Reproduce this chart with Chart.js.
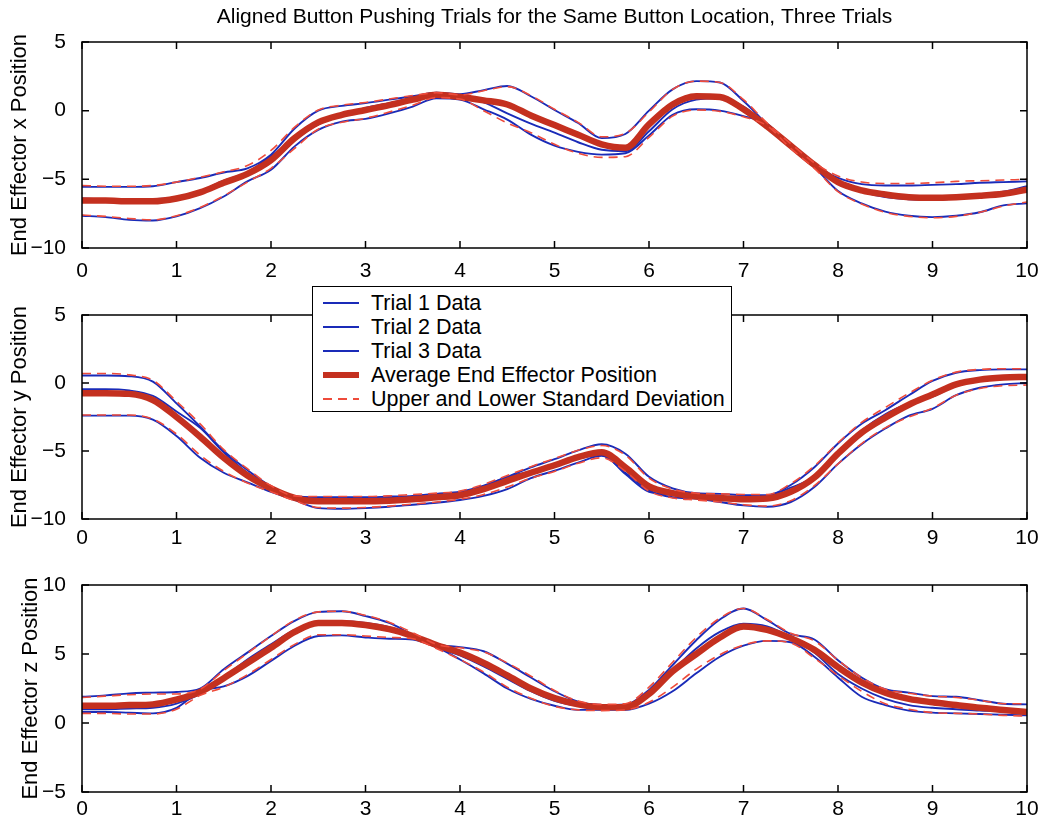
<!DOCTYPE html>
<html>
<head>
<meta charset="utf-8">
<title>Aligned Button Pushing Trials</title>
<script src="https://cdn.jsdelivr.net/npm/chart.js@4.4.1/dist/chart.umd.min.js"></script>
<style>
  body { margin: 0; background: #fff; }
  #page { position: relative; width: 1062px; height: 823px; overflow: hidden; font-family: "Liberation Sans", Arial, Helvetica, sans-serif; }
  .plot { position: absolute; left: 0; width: 1062px; }
  #legend { position: absolute; left: 312px; top: 286px; width: 418px; height: 124px; background: #fff; border: 1.5px solid #000; z-index: 2; }
  #legend ul { list-style: none; margin: 0; padding: 4px 0 0 0; }
  #legend li { height: 24px; line-height: 24px; font-size: 21.5px; color: #000; display: flex; align-items: center; white-space: nowrap; }
  #legend .smp { display: inline-block; width: 36px; margin: 0 12px 0 10px; }
</style>
</head>
<body>
<div id="page">
  <div class="plot" style="top:0;height:285px"><canvas id="cx"></canvas></div>
  <div class="plot" style="top:280px;height:280px"><canvas id="cy"></canvas></div>
  <div class="plot" style="top:560px;height:263px"><canvas id="cz"></canvas></div>
  <div id="legend"></div>
</div>
<script>
// time axis, seconds
var tSec = [0, 0.25, 0.5, 0.75, 1, 1.25, 1.5, 1.75, 2, 2.25, 2.5, 2.75, 3, 3.25, 3.5, 3.75, 4, 4.25, 4.5, 4.75,
            5, 5.25, 5.5, 5.75, 6, 6.25, 6.5, 6.75, 7, 7.25, 7.5, 7.75, 8, 8.25, 8.5, 8.75, 9, 9.25, 9.5, 9.75, 10];

// ---- x position ----
var x_trial1 = [-5.55, -5.55, -5.55, -5.5, -5.2, -4.9, -4.5, -4.2, -3.2, -1.3, 0.0, 0.35, 0.55, 0.8, 1.05, 1.3, 1.2, 1.5, 1.8, 1.05,
                0.05, -0.9, -2.0, -1.7, 0.0, 1.55, 2.15, 2.05, 0.7, -1.0, -2.5, -3.9, -4.9, -5.35, -5.45, -5.45, -5.4, -5.35, -5.25, -5.2, -5.15];
var x_trial2 = [-6.4, -6.45, -6.5, -6.45, -6.3, -5.85, -5.1, -4.5, -3.3, -2.1, -1.0, -0.35, 0.2, 0.55, 0.9, 1.2, 0.95, 0.6, -0.2, -0.95,
                -1.6, -2.3, -2.85, -2.95, -1.5, 0.1, 0.8, 0.9, 0.3, -1.1, -2.6, -4.0, -5.3, -5.9, -6.3, -6.45, -6.5, -6.4, -6.2, -5.9, -5.5];
var x_trial3 = [-7.65, -7.75, -7.95, -8.0, -7.7, -7.1, -6.25, -5.15, -4.3, -2.6, -1.4, -0.8, -0.6, -0.2, 0.3, 0.9, 0.8, 0.1, -0.65, -1.75,
                -2.55, -3.0, -3.2, -3.1, -1.8, -0.3, 0.1, 0.0, -0.4, -0.95, -2.65, -4.1, -5.85, -6.75, -7.35, -7.65, -7.75, -7.65, -7.4, -6.9, -6.75];
var x_avg    = [-6.55, -6.55, -6.6, -6.6, -6.4, -5.95, -5.25, -4.6, -3.6, -2.0, -0.85, -0.3, 0.05, 0.4, 0.8, 1.15, 1.0, 0.75, 0.45, -0.35,
                -1.05, -1.75, -2.45, -2.7, -1.0, 0.45, 1.05, 1.0, 0.1, -1.15, -2.55, -3.95, -5.2, -5.8, -6.1, -6.3, -6.35, -6.3, -6.2, -6.05, -5.75];
var x_sdUp   = [-5.45, -5.5, -5.5, -5.45, -5.2, -4.85, -4.45, -4.0, -2.9, -1.2, 0.05, 0.4, 0.6, 0.85, 1.1, 1.3, 1.15, 1.45, 1.75, 1.1,
                0.1, -0.85, -1.9, -1.65, -0.1, 1.55, 2.15, 2.05, 0.8, -0.9, -2.4, -3.8, -4.75, -5.2, -5.3, -5.3, -5.25, -5.15, -5.1, -5.05, -5.0];
var x_sdLo   = [-7.6, -7.7, -7.85, -7.95, -7.65, -7.05, -6.2, -5.2, -4.2, -2.75, -1.35, -0.85, -0.55, -0.1, 0.4, 0.95, 0.85, 0.0, -0.9, -1.6,
                -2.45, -3.1, -3.4, -3.35, -1.95, -0.4, 0.05, -0.05, -0.45, -1.1, -2.75, -4.2, -5.9, -6.8, -7.4, -7.7, -7.8, -7.7, -7.4, -6.95, -6.65];

// ---- y position ----
var y_trial1 = [0.55, 0.55, 0.5, 0.1, -1.5, -3.2, -5.0, -6.4, -7.6, -8.35, -8.4, -8.4, -8.4, -8.35, -8.3, -8.15, -8.0, -7.55, -6.9, -6.2,
                -5.6, -4.95, -4.5, -5.2, -6.9, -7.75, -8.1, -8.15, -8.25, -8.25, -7.5, -6.2, -4.45, -3.0, -2.0, -0.9, 0.15, 0.75, 0.95, 1.0, 1.0];
var y_trial2 = [-0.45, -0.45, -0.55, -0.95, -2.1, -3.3, -5.1, -6.6, -7.7, -8.4, -8.6, -8.55, -8.5, -8.45, -8.4, -8.3, -8.15, -7.6, -6.9, -6.5,
                -6.1, -5.55, -5.3, -6.7, -8.0, -8.2, -8.45, -8.45, -8.4, -8.3, -7.7, -6.9, -5.2, -3.5, -2.3, -1.5, -1.0, -0.2, 0.2, 0.3, 0.35];
var y_trial3 = [-2.4, -2.4, -2.4, -2.7, -3.9, -5.5, -6.6, -7.3, -8.0, -8.6, -9.2, -9.25, -9.2, -9.1, -8.95, -8.8, -8.6, -8.3, -7.8, -7.0,
                -6.45, -5.85, -5.35, -6.6, -7.9, -8.4, -8.5, -8.75, -9.0, -9.1, -8.75, -7.65, -5.95, -4.5, -3.35, -2.4, -1.9, -0.9, -0.35, -0.1, 0.0];
var y_avg    = [-0.75, -0.75, -0.8, -1.25, -2.5, -3.95, -5.5, -6.8, -7.75, -8.45, -8.7, -8.7, -8.7, -8.65, -8.55, -8.4, -8.25, -7.8, -7.2, -6.6,
                -6.05, -5.45, -5.1, -6.2, -7.6, -8.1, -8.35, -8.45, -8.55, -8.5, -8.0, -6.95, -5.2, -3.65, -2.55, -1.6, -0.85, -0.1, 0.25, 0.4, 0.45];
var y_sdUp   = [0.7, 0.7, 0.6, 0.2, -1.35, -3.0, -4.9, -6.3, -7.55, -8.3, -8.35, -8.35, -8.35, -8.3, -8.2, -8.1, -7.95, -7.45, -6.8, -6.15,
                -5.55, -4.95, -4.6, -5.3, -7.0, -7.8, -8.1, -8.15, -8.2, -8.2, -7.4, -6.1, -4.4, -2.9, -1.8, -0.75, 0.2, 0.8, 1.0, 1.05, 1.05];
var y_sdLo   = [-2.35, -2.35, -2.35, -2.65, -3.75, -5.3, -6.5, -7.35, -8.0, -8.65, -9.15, -9.2, -9.15, -9.05, -8.9, -8.75, -8.55, -8.2, -7.65, -7.0,
                -6.5, -5.9, -5.5, -6.5, -7.95, -8.45, -8.6, -8.75, -8.95, -9.05, -8.65, -7.55, -5.95, -4.45, -3.3, -2.5, -1.85, -0.9, -0.4, -0.2, -0.15];

// ---- z position ----
var z_trial1 = [1.9, 2.0, 2.15, 2.2, 2.25, 2.5, 3.9, 5.1, 6.3, 7.4, 8.05, 8.1, 7.75, 7.25, 6.4, 5.7, 5.5, 5.2, 4.3, 3.3,
                2.3, 1.55, 1.3, 1.35, 2.4, 4.2, 6.0, 7.5, 8.3, 7.45, 6.45, 6.05, 4.55, 3.3, 2.45, 2.2, 1.95, 1.9, 1.65, 1.4, 1.35];
var z_trial2 = [1.0, 1.0, 1.05, 1.1, 1.4, 2.1, 3.3, 4.6, 5.7, 6.75, 7.3, 7.35, 7.25, 6.95, 6.3, 5.5, 4.9, 4.1, 3.2, 2.3,
                1.6, 1.25, 1.15, 1.2, 2.2, 3.8, 5.4, 6.6, 7.2, 7.0, 6.2, 5.1, 3.55, 2.5, 1.75, 1.3, 1.1, 1.0, 0.9, 0.85, 0.75];
var z_trial3 = [0.8, 0.8, 0.75, 0.7, 1.1, 2.3, 2.65, 3.4, 4.5, 5.6, 6.3, 6.35, 6.2, 6.1, 6.05, 5.5, 4.6, 3.6, 2.5, 1.75,
                1.25, 0.95, 0.95, 0.95, 1.4, 2.3, 3.6, 4.8, 5.6, 5.95, 5.85, 4.8, 3.3, 1.9, 1.3, 0.9, 0.75, 0.7, 0.65, 0.6, 0.55];
var z_avg    = [1.25, 1.25, 1.3, 1.35, 1.7, 2.25, 3.25, 4.35, 5.45, 6.6, 7.25, 7.25, 7.1, 6.8, 6.3, 5.65, 5.1, 4.35, 3.45, 2.5,
                1.8, 1.35, 1.15, 1.15, 2.1, 3.75, 5.0, 6.2, 7.0, 6.75, 6.15, 5.3, 4.05, 2.95, 2.2, 1.75, 1.5, 1.3, 1.1, 0.95, 0.8];
var z_sdUp   = [1.85, 1.95, 2.05, 2.1, 2.1, 2.45, 3.8, 5.05, 6.3, 7.45, 8.05, 8.1, 7.8, 7.3, 6.55, 5.7, 5.45, 5.15, 4.35, 3.4,
                2.35, 1.6, 1.35, 1.4, 2.6, 4.4, 6.2, 7.6, 8.3, 7.5, 6.5, 5.95, 4.55, 3.3, 2.45, 2.15, 1.95, 1.85, 1.65, 1.4, 1.4];
var z_sdLo   = [0.7, 0.7, 0.65, 0.65, 1.0, 2.0, 2.6, 3.5, 4.6, 5.7, 6.4, 6.4, 6.3, 6.2, 6.1, 5.4, 4.6, 3.7, 2.6, 1.8,
                1.2, 0.95, 0.9, 0.95, 1.5, 2.6, 3.9, 4.95, 5.65, 5.95, 5.8, 4.7, 3.45, 2.3, 1.4, 1.0, 0.75, 0.7, 0.65, 0.55, 0.5];

var FONT = '"Liberation Sans", Arial, Helvetica, sans-serif';
var BLUE = '#1a2bb8';
var RED = '#c4301f';
var RED_DASH = '#ee4b3b';

Chart.defaults.font.family = FONT;
Chart.defaults.color = '#000';

function minusSign(v) {
    return String(v).replace('-', '\u2212');
}

function makeSets(t1, t2, t3, avg, up, lo) {
    var line = function (lbl, d, color, w, extra) {
        var ds = { label: lbl, data: d, borderColor: color, borderWidth: w, xAxisID: 'x', yAxisID: 'y' };
        return Object.assign(ds, extra || {});
    };
    return [
        line('Trial 1 Data', t1, BLUE, 1.9, { order: 2 }),
        line('Trial 2 Data', t2, BLUE, 1.9, { order: 2 }),
        line('Trial 3 Data', t3, BLUE, 1.9, { order: 2 }),
        line('Average End Effector Position', avg, RED, 6.5, { order: 1 }),
        line('Upper and Lower Standard Deviation', up, RED_DASH, 1.6, { order: 0, borderDash: [9, 6] }),
        line('lower sd', lo, RED_DASH, 1.6, { order: 0, borderDash: [9, 6], hideInLegend: true })
    ];
}

// box around the plot area with inward tick marks on all four sides
var boxAxes = {
    id: 'boxAxes',
    afterDatasetsDraw: function (chart) {
        var ctx = chart.ctx, a = chart.chartArea;
        var xs = chart.scales.x, ys = chart.scales.y, len = 7;
        ctx.save();
        ctx.strokeStyle = '#000';
        ctx.lineWidth = 1.5;
        ctx.beginPath();
        xs.ticks.forEach(function (t) {
            var px = xs.getPixelForValue(t.value);
            ctx.moveTo(px, a.bottom); ctx.lineTo(px, a.bottom - len);
            ctx.moveTo(px, a.top); ctx.lineTo(px, a.top + len);
        });
        ys.ticks.forEach(function (t) {
            var py = ys.getPixelForValue(t.value);
            ctx.moveTo(a.left, py); ctx.lineTo(a.left + len, py);
            ctx.moveTo(a.right, py); ctx.lineTo(a.right - len, py);
        });
        ctx.stroke();
        ctx.strokeRect(a.left, a.top, a.right - a.left, a.bottom - a.top);
        ctx.restore();
    }
};

// legend as html, built from the chart's own legend items
var htmlLegend = {
    id: 'htmlLegend',
    afterUpdate: function (chart, args, opts) {
        var box = document.getElementById(opts.containerID);
        if (!box) return;
        box.innerHTML = '';
        var ul = document.createElement('ul');
        var items = chart.options.plugins.legend.labels.generateLabels(chart);
        items.sort(function (p, q) { return p.datasetIndex - q.datasetIndex; });
        items.forEach(function (item) {
            if (chart.data.datasets[item.datasetIndex].hideInLegend) return;
            var li = document.createElement('li');
            var smp = document.createElement('span');
            smp.className = 'smp';
            smp.style.height = item.lineWidth + 'px';
            if (item.lineDash && item.lineDash.length) {
                smp.style.background = 'repeating-linear-gradient(90deg,' + item.strokeStyle + ' 0 9px, transparent 9px 15px)';
            } else {
                smp.style.background = item.strokeStyle;
            }
            li.appendChild(smp);
            li.appendChild(document.createTextNode(item.text));
            ul.appendChild(li);
        });
        box.appendChild(ul);
    }
};

function makePlot(id, cfg) {
    var plugins = [boxAxes];
    if (cfg.legend) plugins.push(htmlLegend);

    var scales = {
        x: {
            type: 'linear',
            min: 0, max: 10,
            grid: { display: false },
            border: { display: false },
            ticks: { stepSize: 1, padding: cfg.xPad, maxRotation: 0, font: { size: 21 }, color: '#000' },
            afterFit: function (s) { s.height = cfg.xHeight; }
        },
        y: {
            min: cfg.yMin, max: cfg.yMax,
            grid: { display: false },
            border: { display: false },
            ticks: { stepSize: 5, padding: 8, font: { size: 21 }, color: '#000', callback: minusSign },
            title: {
                display: true,
                text: cfg.yTitle,
                color: '#000',
                font: { size: 22 },
                padding: { top: cfg.titlePad, bottom: 0 }
            },
            afterFit: function (s) { s.width = 82; }
        }
    };
    // figure title sits on an empty top axis so it centres over the plot area
    if (cfg.title) {
        scales.xTop = {
            type: 'linear',
            position: 'top',
            min: 0, max: 10,
            grid: { display: false },
            border: { display: false },
            ticks: { display: false },
            title: {
                display: true,
                text: cfg.title,
                color: '#000',
                font: { size: 21 },
                padding: { top: 5, bottom: 0 }
            },
            afterFit: function (s) { s.height = 42; }
        };
    }

    return new Chart(document.getElementById(id), {
        type: 'line',
        data: { labels: tSec, datasets: cfg.sets },
        plugins: plugins,
        options: {
            responsive: true,
            maintainAspectRatio: false,
            animation: false,
            events: [],
            layout: { padding: { top: cfg.padTop, right: 35, left: 0, bottom: 0 } },
            elements: {
                point: { radius: 0 },
                line: { cubicInterpolationMode: 'monotone', fill: false }
            },
            plugins: {
                legend: { display: false },
                tooltip: { enabled: false },
                htmlLegend: { containerID: 'legend' }
            },
            scales: scales
        }
    });
}

makePlot('cx', {
    sets: makeSets(x_trial1, x_trial2, x_trial3, x_avg, x_sdUp, x_sdLo),
    title: 'Aligned Button Pushing Trials for the Same Button Location, Three Trials',
    padTop: 0, xHeight: 37, xPad: 3, yMin: -10, yMax: 5,
    yTitle: 'End Effector x Position', titlePad: 7
});
makePlot('cy', {
    sets: makeSets(y_trial1, y_trial2, y_trial3, y_avg, y_sdUp, y_sdLo),
    legend: true,
    padTop: 35, xHeight: 41, xPad: -1, yMin: -10, yMax: 5,
    yTitle: 'End Effector y Position', titlePad: 7
});
makePlot('cz', {
    sets: makeSets(z_trial1, z_trial2, z_trial3, z_avg, z_sdUp, z_sdLo),
    padTop: 25, xHeight: 31, xPad: -3, yMin: -5, yMax: 10,
    yTitle: 'End Effector z Position', titlePad: 18
});
</script>
</body>
</html>
